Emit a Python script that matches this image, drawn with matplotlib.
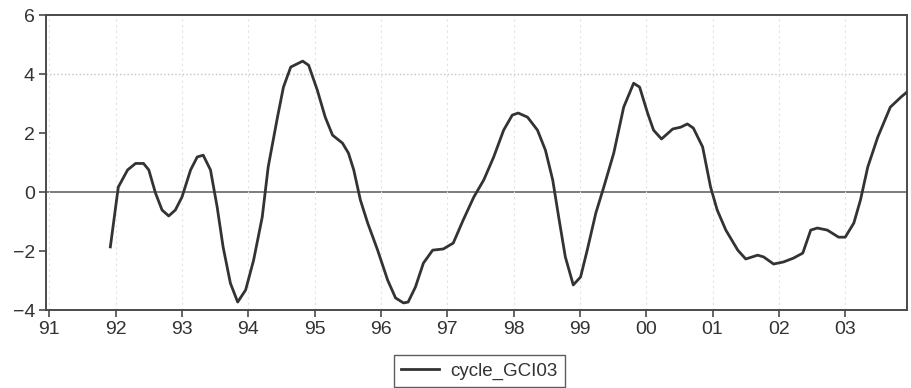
import numpy as np
import matplotlib
matplotlib.use("Agg")
import matplotlib.pyplot as plt

plt.rcParams['font.family'] = ['Liberation Sans', 'DejaVu Sans']

# cycle_GCI03 (decimal years, value)
dates = [1991.92, 1992.04, 1992.18, 1992.30, 1992.42, 1992.50, 1992.60, 1992.70,
         1992.80, 1992.90, 1993.00, 1993.13, 1993.23, 1993.32, 1993.43, 1993.53,
         1993.62, 1993.73, 1993.84, 1993.96, 1994.08, 1994.21, 1994.30, 1994.44,
         1994.53, 1994.64, 1994.82, 1994.91, 1995.04, 1995.16, 1995.27, 1995.42,
         1995.51, 1995.59, 1995.69, 1995.80, 1995.95, 1996.10, 1996.22, 1996.34,
         1996.41, 1996.52, 1996.64, 1996.78, 1996.94, 1997.09, 1997.24, 1997.40,
         1997.55, 1997.70, 1997.85, 1997.98, 1998.07, 1998.21, 1998.36, 1998.48,
         1998.59, 1998.68, 1998.78, 1998.90, 1999.01, 1999.11, 1999.24, 1999.36,
         1999.51, 1999.66, 1999.81, 1999.90, 2000.02, 2000.11, 2000.23, 2000.40,
         2000.52, 2000.62, 2000.71, 2000.85, 2000.97, 2001.07, 2001.20, 2001.38,
         2001.50, 2001.68, 2001.77, 2001.92, 2002.07, 2002.22, 2002.36, 2002.48,
         2002.58, 2002.73, 2002.90, 2003.00, 2003.13, 2003.23, 2003.34, 2003.49,
         2003.68, 2003.84, 2003.93]
cycle = [-1.86, 0.17, 0.75, 0.97, 0.97, 0.75, -0.03, -0.61,
         -0.81, -0.61, -0.17, 0.75, 1.19, 1.25, 0.75, -0.50,
         -1.86, -3.09, -3.73, -3.32, -2.31, -0.85, 0.85, 2.54,
         3.56, 4.24, 4.44, 4.30, 3.46, 2.54, 1.93, 1.66,
         1.32, 0.75, -0.27, -1.05, -1.97, -2.98, -3.59, -3.76,
         -3.73, -3.22, -2.41, -1.97, -1.93, -1.73, -0.95, -0.17,
         0.41, 1.19, 2.10, 2.61, 2.68, 2.54, 2.10, 1.42,
         0.41, -0.85, -2.20, -3.15, -2.88, -1.97, -0.71, 0.17,
         1.32, 2.88, 3.69, 3.56, 2.68, 2.10, 1.80, 2.14,
         2.20, 2.31, 2.17, 1.53, 0.17, -0.61, -1.29, -1.97,
         -2.27, -2.14, -2.20, -2.44, -2.37, -2.24, -2.07, -1.29,
         -1.22, -1.29, -1.53, -1.53, -1.05, -0.27, 0.85, 1.86,
         2.88, 3.22, 3.39]

years = list(range(1991, 2004))
year_labels = ['91', '92', '93', '94', '95', '96', '97', '98', '99', '00', '01', '02', '03']
yticks = [-4, -2, 0, 2, 4, 6]

fig = plt.figure(figsize=(9.11, 3.88), dpi=100)
ax = fig.add_axes([0.0505, 0.201, 0.945, 0.760])

edge = '#4a4a4a'
ax.axhline(0, color='#666666', lw=1.2, zorder=1)
ax.axhline(4, color='#c4c4c4', lw=1.0, ls=':', zorder=1)
for yr in years:
    ax.axvline(yr, color='#e2e2e2', lw=0.8, ls=(0, (2, 3)), zorder=1)

ax.plot(dates, cycle, color='#333333', lw=2.0, label='cycle_GCI03', zorder=3,
        solid_joinstyle='round')

ax.set_xlim(1990.95, 2003.93)
ax.set_ylim(-4, 6)
ax.set_xticks(years)
ax.set_xticklabels(year_labels)
ax.set_yticks(yticks)
ax.tick_params(axis='both', direction='out', length=5, width=1.2, color=edge,
               labelsize=14, labelcolor='#333333', pad=3)
for s in ax.spines.values():
    s.set_color(edge)
    s.set_linewidth(1.4)

fig.legend(loc='center', bbox_to_anchor=(0.526, 0.044), fontsize=13.5,
           frameon=True, fancybox=False, edgecolor='#333333', handlelength=2.0,
           borderpad=0.4, borderaxespad=0, handletextpad=0.6, labelcolor='#333333')

fig.savefig('out.png', dpi=100, facecolor='white')
